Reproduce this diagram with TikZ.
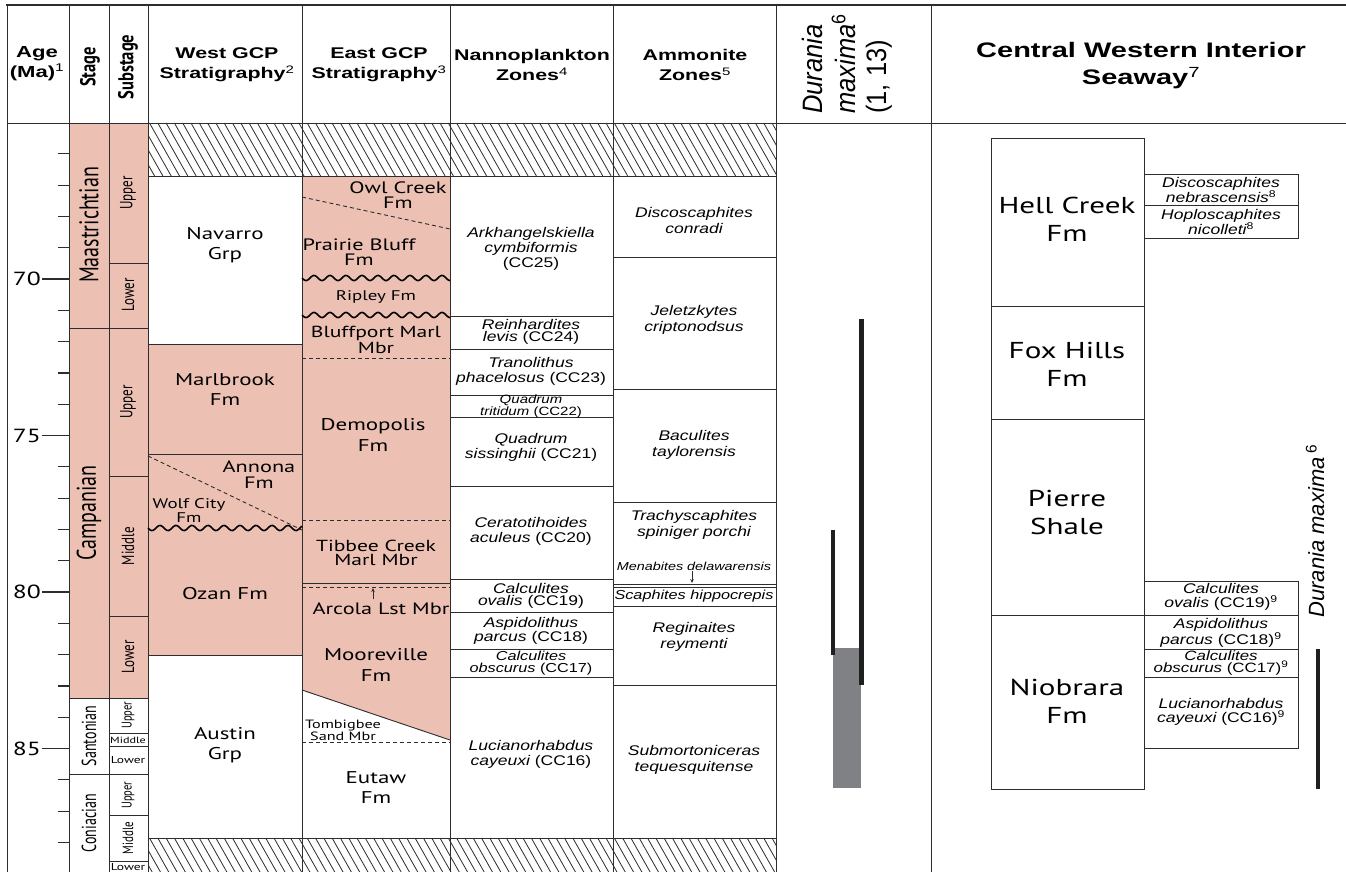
\documentclass[tikz,border=0pt]{standalone}
\usepackage{fontspec}
\newfontfamily\fmfont{PT Sans}[FakeStretch=1.35]
\newfontfamily\rotfont{PT Sans}
\newfontfamily\hdfont{Liberation Sans}[FakeStretch=1.38]
\newfontfamily\znfont{Liberation Sans}[FakeStretch=1.25]
\newfontfamily\plainsans{Liberation Sans}
\usetikzlibrary{arrows.meta}
\definecolor{pinkfm}{RGB}{236,193,179}
\definecolor{grayb}{RGB}{128,129,132}
\definecolor{ln}{RGB}{45,45,45}
\tikzset{
  grid/.style={draw=ln, line width=0.9pt},
  fm/.style={inner sep=0pt, align=center, font=\fmfont\fontsize{17}{20}\selectfont},
  zn/.style={inner sep=0pt, align=center, font=\znfont\itshape\fontsize{14}{15}\selectfont},
  hd/.style={inner sep=0pt, align=center, font=\hdfont\bfseries\fontsize{15.5}{20}\selectfont},
  rot/.style={inner sep=0pt},
  dsh/.style={draw=ln, line width=0.9pt, dash pattern=on 4pt off 3pt},
  wave/.style={draw=black, line width=1.6pt},
  hatchline/.style={draw=ln, line width=0.8pt},
  bar/.style={fill=black!88},
  tick/.style={draw=ln, line width=1.2pt},
  agelab/.style={inner sep=0pt, anchor=east, font=\fmfont\fontsize{19}{19}\selectfont},
  smallarrow/.style={draw=ln, line width=0.8pt, -{Stealth[length=4pt,width=3.5pt]}}
}
\newcommand{\rottext}[3]{\rotatebox{90}{\scalebox{1}[#1]{\rotfont\fontsize{#2}{#2}\selectfont #3}}}
\begin{document}
\begin{tikzpicture}[x=1pt,y=-1pt]
\useasboundingbox (0,0) rectangle (1346,872);
\fill[white] (0,0) rectangle (1346,872);
% ---------- fills ----------
\fill[pinkfm] (69,123) rectangle (148,698);
\fill[pinkfm] (148,344) rectangle (302,655);
\fill[pinkfm] (302,176) -- (450,176) -- (450,740) -- (302,690) -- cycle;
% ---------- hatch ----------
\begin{scope}
  \clip (148,123) rectangle (776,176);
  \foreach \i in {0,...,82} \draw[hatchline] ({108+\i*8.3},123) -- ++(30,53);
\end{scope}
\begin{scope}
  \clip (148,838) rectangle (776,872);
  \foreach \i in {0,...,82} \draw[hatchline] ({108+\i*8.3},838) -- ++(30,53);
\end{scope}
% ---------- Durania bars ----------
\fill[grayb] (833,648) rectangle (861,788);
\fill[bar] (858.5,319) rectangle (863.5,685);
\fill[bar] (831,530) rectangle (835,655);
\fill[bar] (1316,649) rectangle (1320,789);
% ---------- frame ----------
\draw[ln, line width=2pt] (6,5) -- (1346,5);
\draw[grid] (7,5) -- (7,872);
\draw[grid] (7,123) -- (1346,123);
\foreach \x in {69,109,148,302,450,613,776,931} \draw[grid] (\x,5) -- (\x,872);
% stage / substage
\foreach \y in {328,698,774} \draw[grid] (69,\y) -- (148,\y);
\foreach \y in {263,476,616,733,746,815,861} \draw[grid] (109,\y) -- (148,\y);
% hatch bounds
\draw[grid] (148,176) -- (776,176);
\draw[grid] (148,838) -- (776,838);
% west
\foreach \y in {344,454,655} \draw[grid] (148,\y) -- (302,\y);
\draw[dsh] (148,456) -- (302,530);
\draw[wave] plot[domain=148:302, samples=90, smooth] (\x,{528+2.6*sin((\x-148)*22.5)});
% east
\draw[dsh] (302,197) -- (450,229);
\draw[wave] plot[domain=302:450, samples=90, smooth] (\x,{278+2.6*sin((\x-302)*22.5)});
\draw[wave] plot[domain=302:450, samples=90, smooth] (\x,{315+2.6*sin((\x-302)*22.5)});
\draw[dsh] (302,358) -- (450,358);
\draw[dsh] (302,520) -- (450,520);
\draw[grid] (302,583) -- (450,583);
\draw[dsh] (302,587) -- (450,587);
\draw[grid] (302,690) -- (450,740);
\draw[dsh] (302,742) -- (450,742);
% nanno
\foreach \y in {316,349,395,417,486,579,612,649,677} \draw[grid] (450,\y) -- (613,\y);
% ammonite
\foreach \y in {257,389,502,584,587,606,685} \draw[grid] (613,\y) -- (776,\y);
% right section
\draw[grid] (991,138) rectangle (1144,789);
\foreach \y in {306,419,615} \draw[grid] (991,\y) -- (1144,\y);
\draw[grid] (1144,174) rectangle (1298,238);
\draw[grid] (1144,205) -- (1298,205);
\draw[grid] (1144,581) rectangle (1298,748);
\foreach \y in {615,649,677} \draw[grid] (1144,\y) -- (1298,\y);
% ticks
\foreach \a in {66,...,88} \draw[tick] (58,{279+(\a-70)*31.3}) -- (69,{279+(\a-70)*31.3});
\foreach \a in {70,75,80,85} \draw[tick] (42,{279+(\a-70)*31.3}) -- (69,{279+(\a-70)*31.3});
\node[agelab] (a70) at (41,279) {70};
\node[agelab] (a75) at (41,435.5) {75};
\node[agelab] (a80) at (41,592) {80};
\node[agelab] (a85) at (41,748.5) {85};
% arrows
\draw[smallarrow] (373,599) -- (373,588);
\draw[smallarrow] (692,571) -- (692,583);
% ---------- headers ----------
\node[hd, font=\hdfont\bfseries\fontsize{16}{20}\selectfont] (hage) at (37,64) {Age\\(Ma)\textsuperscript{\mdseries 1}};
\node[rot] (hstage) at (90,67) {\rotatebox{90}{\scalebox{1}[1.3]{\rotfont\bfseries\fontsize{16.5}{16}\selectfont Stage}}};
\node[rot] (hsub) at (128,67) {\rotatebox{90}{\scalebox{1}[1.3]{\rotfont\bfseries\fontsize{16.5}{16}\selectfont Substage}}};
\node[hd] (hwest) at (227,65) {West GCP\\Stratigraphy\textsuperscript{\mdseries 2}};
\node[hd] (heast) at (379,65) {East GCP\\Stratigraphy\textsuperscript{\mdseries 3}};
\node[hd] (hnanno) at (532,65) {Nannoplankton\\Zones\textsuperscript{\mdseries 4}};
\node[hd] (hammo) at (695,65) {Ammonite\\Zones\textsuperscript{\mdseries 5}};
\node[rot, anchor=south] (hdur) at (848,114) {\rotatebox{90}{\scalebox{1}[1.1]{\plainsans\itshape\fontsize{25.5}{28}\selectfont\begin{tabular}{@{}l@{}}Durania\\ maxima\textsuperscript{\upshape 6}\\ {\upshape (1, 13)}\end{tabular}}}};
\node[hd, font=\hdfont\bfseries\fontsize{21}{27}\selectfont] (hcwis) at (1141,66) {Central Western Interior\\Seaway\textsuperscript{\mdseries 7}};
% ---------- stages ----------
\node[rot] (s1) at (89,225) {\rottext{1.35}{20}{Maastrichtian}};
\node[rot] (s2) at (89,513) {\rottext{1.35}{20}{Campanian}};
\node[rot] (s3) at (89,736) {\rottext{1.45}{14}{Santonian}};
\node[rot] (s4) at (89,823) {\rottext{1.45}{14}{Coniacian}};
% substages
\node[rot] (u1) at (128,193) {\rottext{1.35}{13}{Upper}};
\node[rot] (u2) at (128,295) {\rottext{1.35}{13}{Lower}};
\node[rot] (u3) at (128,402) {\rottext{1.35}{13}{Upper}};
\node[rot] (u4) at (128,546) {\rottext{1.35}{13}{Middle}};
\node[rot] (u5) at (128,657) {\rottext{1.35}{13}{Lower}};
\node[rot] (u6) at (128,715) {\rottext{1.35}{10.5}{Upper}};
\node[fm, font=\fmfont\fontsize{9}{9}\selectfont] (u7) at (128,740) {Middle};
\node[fm, font=\fmfont\fontsize{10}{10}\selectfont] (u8) at (128,760) {Lower};
\node[rot] (u9) at (128,795) {\rottext{1.35}{10.5}{Upper}};
\node[rot] (u10) at (128,838) {\rottext{1.35}{11}{Middle}};
\node[fm, font=\fmfont\fontsize{10}{10}\selectfont] (u11) at (128,867) {Lower};
% ---------- west GCP ----------
\node[fm] (w1) at (225,245) {Navarro\\Grp};
\node[fm] (w2) at (225,390) {Marlbrook\\Fm};
\node[fm, font=\fmfont\fontsize{16.5}{16}\selectfont] (w3) at (259,475) {Annona\\Fm};
\node[fm, font=\fmfont\fontsize{14}{14}\selectfont] (w4) at (189,511) {Wolf City\\Fm};
\node[fm] (w5) at (225,594) {Ozan Fm};
\node[fm] (w6) at (225,745) {Austin\\Grp};
% ---------- east GCP ----------
\node[fm, font=\fmfont\fontsize{16.5}{15}\selectfont] (e1) at (398,195) {Owl Creek\\Fm};
\node[fm, font=\fmfont\fontsize{16.5}{15}\selectfont] (e2) at (359,252) {Prairie Bluff\\Fm};
\node[fm, font=\fmfont\fontsize{14}{14}\selectfont] (e3) at (376,297) {Ripley Fm};
\node[fm, font=\fmfont\fontsize{16}{14}\selectfont] (e4) at (376,340) {Bluffport Marl\\Mbr};
\node[fm, font=\fmfont\fontsize{17}{21}\selectfont] (e5) at (373,435) {Demopolis\\Fm};
\node[fm, font=\fmfont\fontsize{16}{13.5}\selectfont] (e6) at (376,553) {Tibbee Creek\\Marl Mbr};
\node[fm, font=\fmfont\fontsize{16.5}{16}\selectfont] (e7) at (381,609) {Arcola Lst Mbr};
\node[fm, font=\fmfont\fontsize{17}{21}\selectfont] (e8) at (376,665) {Mooreville\\Fm};
\node[fm, font=\fmfont\fontsize{12}{12}\selectfont] (e9) at (343,730) {Tombigbee\\Sand Mbr};
\node[fm] (e10) at (376,788) {Eutaw\\Fm};
% ---------- nannoplankton ----------
\node[zn] (n1) at (531,249) {Arkhangelskiella\\cymbiformis\\{\upshape (CC25)}};
\node[zn, font=\znfont\itshape\fontsize{14}{12.5}\selectfont] (n2) at (531,332) {Reinhardites\\levis {\upshape (CC24)}};
\node[zn] (n3) at (531,371) {Tranolithus\\phacelosus {\upshape (CC23)}};
\node[zn, font=\znfont\itshape\fontsize{12}{10}\selectfont] (n4) at (531,406) {Quadrum\\tritidum {\upshape (CC22)}};
\node[zn] (n5) at (531,447) {Quadrum\\sissinghii {\upshape (CC21)}};
\node[zn] (n6) at (531,531) {Ceratotihoides\\aculeus {\upshape (CC20)}};
\node[zn, font=\znfont\itshape\fontsize{14}{12.5}\selectfont] (n7) at (531,596) {Calculites\\ovalis {\upshape (CC19)}};
\node[zn, font=\znfont\itshape\fontsize{14}{12.5}\selectfont] (n8) at (531,631) {Aspidolithus\\parcus {\upshape (CC18)}};
\node[zn, font=\znfont\itshape\fontsize{13}{11.8}\selectfont] (n9) at (531,663) {Calculites\\obscurus {\upshape (CC17)}};
\node[zn] (n10) at (531,754) {Lucianorhabdus\\cayeuxi {\upshape (CC16)}};
% ---------- ammonites ----------
\node[zn, font=\znfont\itshape\fontsize{14}{16}\selectfont] (m1) at (694,220) {Discoscaphites\\conradi};
\node[zn, font=\znfont\itshape\fontsize{14}{16}\selectfont] (m2) at (694,320) {Jeletzkytes\\criptonodsus};
\node[zn, font=\znfont\itshape\fontsize{14}{16}\selectfont] (m3) at (694,445) {Baculites\\taylorensis};
\node[zn, font=\znfont\itshape\fontsize{14}{16}\selectfont] (m4) at (694,525) {Trachyscaphites\\spiniger porchi};
\node[zn, font=\znfont\itshape\fontsize{11.5}{12}\selectfont] (m5) at (694,566) {Menabites delawarensis};
\node[zn, font=\znfont\itshape\fontsize{13}{13}\selectfont] (m6) at (694,596) {Scaphites hippocrepis};
\node[zn, font=\znfont\itshape\fontsize{14}{16}\selectfont] (m7) at (694,637) {Reginaites\\reymenti};
\node[zn, font=\znfont\itshape\fontsize{14}{16}\selectfont] (m8) at (694,760) {Submortoniceras\\tequesquitense};
% ---------- central western interior ----------
\node[fm, font=\fmfont\fontsize{23}{28}\selectfont] (c1) at (1067,219) {Hell Creek\\Fm};
\node[fm, font=\fmfont\fontsize{23}{28}\selectfont] (c2) at (1067,364) {Fox Hills\\Fm};
\node[fm, font=\fmfont\fontsize{23}{28}\selectfont] (c3) at (1067,512) {Pierre\\Shale};
\node[fm, font=\fmfont\fontsize{23}{28}\selectfont] (c4) at (1067,701) {Niobrara\\Fm};
\node[zn, font=\znfont\itshape\fontsize{14}{13}\selectfont] (r1) at (1221,190) {Discoscaphites\\nebrascensis\textsuperscript{\upshape 8}};
\node[zn, font=\znfont\itshape\fontsize{14}{13}\selectfont] (r2) at (1221,222) {Hoploscaphites\\nicolleti\textsuperscript{\upshape 8}};
\node[zn, font=\znfont\itshape\fontsize{14}{14}\selectfont] (r3) at (1221,597) {Calculites\\ovalis {\upshape (CC19)}\textsuperscript{\upshape 9}};
\node[zn, font=\znfont\itshape\fontsize{14}{12.5}\selectfont] (r4) at (1221,633) {Aspidolithus\\parcus {\upshape (CC18)}\textsuperscript{\upshape 9}};
\node[zn, font=\znfont\itshape\fontsize{13.5}{11.5}\selectfont] (r5) at (1221,663) {Calculites\\obscurus {\upshape (CC17)}\textsuperscript{\upshape 9}};
\node[zn, font=\znfont\itshape\fontsize{14}{14}\selectfont] (r6) at (1221,712) {Lucianorhabdus\\cayeuxi {\upshape (CC16)}\textsuperscript{\upshape 9}};
\node[rot] (rdur) at (1315,531) {\rotatebox{90}{\plainsans\itshape\fontsize{22}{22}\selectfont Durania maxima\,\textsuperscript{\upshape 6}}};
\end{tikzpicture}
\end{document}
